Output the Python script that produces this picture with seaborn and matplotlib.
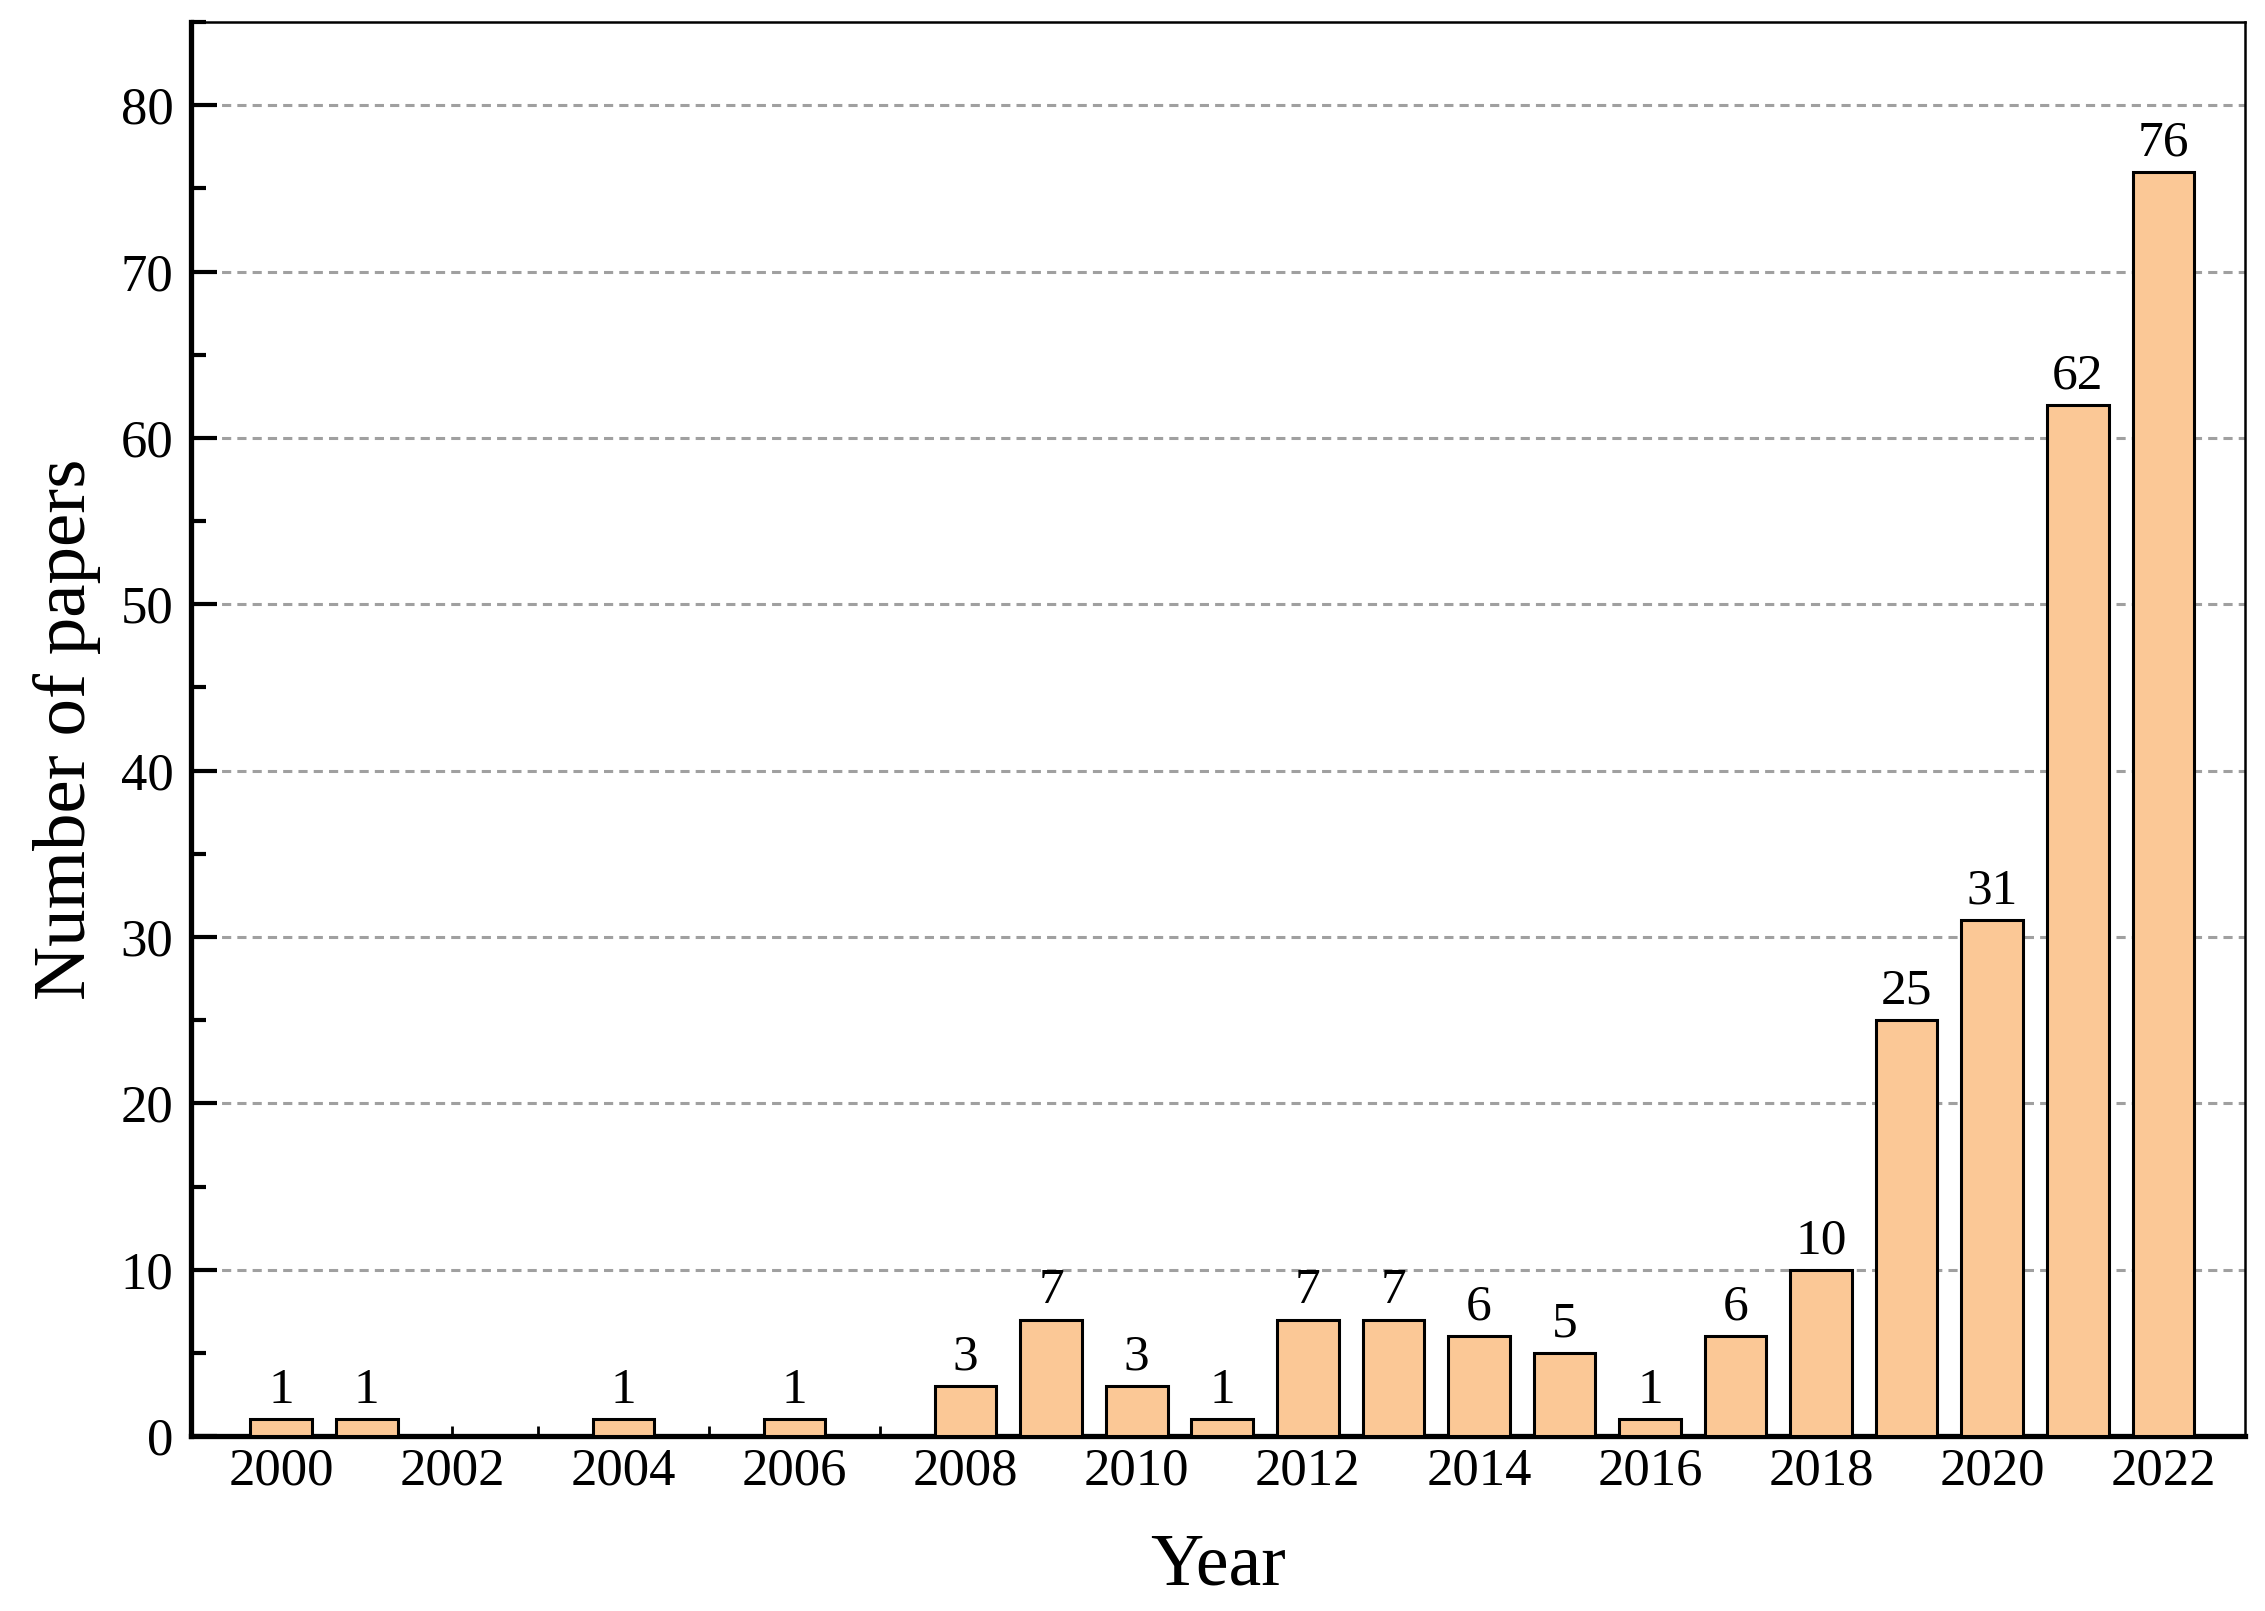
import numpy as np
import pandas as pd
import matplotlib
matplotlib.use('Agg')
import matplotlib.pyplot as plt
import seaborn as sns
from matplotlib.ticker import MultipleLocator

years = list(range(2000, 2023))
papers = [1, 1, 0, 0, 1, 0, 1, 0, 3, 7, 3, 1, 7, 7, 6, 5, 1, 6, 10, 25, 31, 62, 76]

df = pd.DataFrame({'Year': [str(y) for y in years], 'Papers': papers})

sns.set_style('ticks')
plt.rcParams['font.family'] = ['Liberation Serif', 'DejaVu Serif']
plt.rcParams['text.color'] = 'black'
plt.rcParams['axes.labelcolor'] = 'black'
plt.rcParams['xtick.color'] = 'black'
plt.rcParams['ytick.color'] = 'black'
plt.rcParams['axes.edgecolor'] = 'black'

fig = plt.figure(figsize=(22.65, 16.11), dpi=100)
ax = fig.add_axes([0.0845, 0.1086, 0.9065, 0.8777])

sns.barplot(data=df, x='Year', y='Papers', color='#FBC896', saturation=1,
            edgecolor='black', linewidth=2.2, width=0.72, ax=ax, zorder=3)

# value labels, skip empty years
labels = [str(v) if v > 0 else '' for v in papers]
ax.bar_label(ax.containers[0], labels=labels, padding=4, fontsize=37, color='black')

ax.set_xlim(-1.05, 22.95)
ax.set_ylim(0, 85)
ax.yaxis.set_major_locator(MultipleLocator(10))
ax.yaxis.set_minor_locator(MultipleLocator(5))

ax.set_xticks(range(len(years)))
ax.set_xticklabels([str(y) if y % 2 == 0 else '' for y in years])

ax.yaxis.grid(True, which='major', color='#a0a0a0', linestyle=(0, (3, 2)), linewidth=2.2, zorder=0)
ax.set_axisbelow(True)

ax.tick_params(axis='y', which='major', direction='in', length=19, width=3, labelsize=38, pad=13)
ax.tick_params(axis='y', which='minor', direction='in', length=11, width=3)
ax.tick_params(axis='x', which='major', direction='in', length=7, width=2, labelsize=38, pad=8)

for side in ['left', 'bottom']:
    ax.spines[side].set_linewidth(3.8)
for side in ['top', 'right']:
    ax.spines[side].set_visible(True)
    ax.spines[side].set_linewidth(1.8)

ax.set_xlabel('Year', fontsize=53, labelpad=27)
ax.set_ylabel('Number of papers', fontsize=54, labelpad=14)

fig.savefig('out.png', dpi=100)
